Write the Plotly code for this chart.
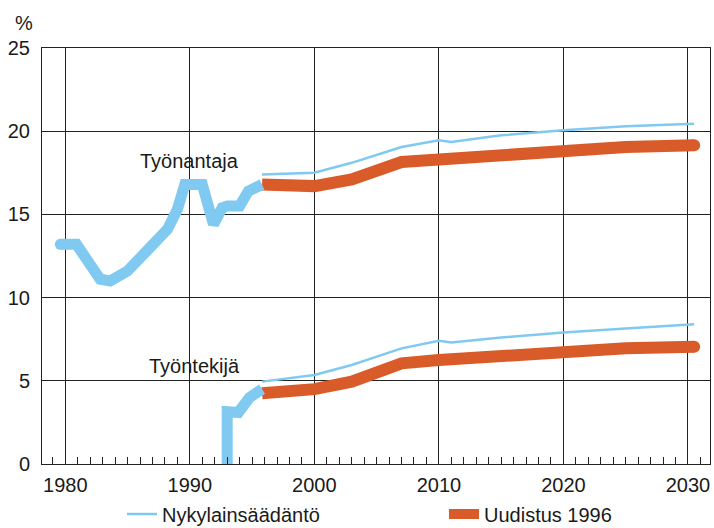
import plotly.graph_objects as go

# ---- data ----
hist_years_employer = [1979.6, 1980.9, 1982.8, 1983.6, 1985.0, 1986.6, 1988.2, 1989.0,
                       1989.6, 1990.0, 1991.0, 1991.9, 1992.6, 1993.0, 1994.0, 1994.7, 1995.8]
hist_employer = [13.2, 13.2, 11.1, 11.0, 11.6, 12.8, 14.1, 15.3,
                 16.8, 16.8, 16.8, 14.4, 15.4, 15.5, 15.5, 16.4, 16.8]

hist_years_employee = [1993.0, 1993.0, 1993.9, 1994.8, 1995.8]
hist_employee = [0.0, 3.15, 3.1, 4.0, 4.5]

proj_years = [1995.8, 2000, 2003, 2007, 2010, 2011, 2015, 2020, 2025, 2030.5]
nyky_employer = [17.4, 17.5, 18.1, 19.05, 19.45, 19.35, 19.75, 20.05, 20.3, 20.45]
uud_employer = [16.8, 16.7, 17.1, 18.15, 18.3, 18.35, 18.6, 18.85, 19.05, 19.15]
nyky_employee = [4.95, 5.35, 5.95, 6.95, 7.4, 7.3, 7.6, 7.9, 8.15, 8.4]
uud_employee = [4.25, 4.5, 4.95, 6.05, 6.25, 6.3, 6.5, 6.75, 6.95, 7.05]

x_ticks = [1980, 1990, 2000, 2010, 2020, 2030]
y_ticks = [0, 5, 10, 15, 20, 25]

series_names = ["Nykylainsäädäntö", "Uudistus 1996"]
labels = ["Työnantaja", "Työntekijä"]

BLUE = "#80c9f0"
ORANGE = "#d95b2a"
FONT = "Liberation Sans, Arial, Helvetica, sans-serif"
TXT = "#1a1a1a"
GRID = "#222222"

fig = go.Figure()

# Uudistus 1996 (thick orange)
fig.add_trace(go.Scatter(x=proj_years, y=uud_employer, mode="lines",
                         line=dict(color=ORANGE, width=12),
                         name=series_names[1], legend="legend2"))
fig.add_trace(go.Scatter(x=proj_years, y=uud_employee, mode="lines",
                         line=dict(color=ORANGE, width=12),
                         name=series_names[1], showlegend=False))
# round end caps
fig.add_trace(go.Scatter(x=[proj_years[-1], proj_years[-1]], y=[uud_employer[-1], uud_employee[-1]],
                         mode="markers", marker=dict(color=ORANGE, size=12),
                         showlegend=False, hoverinfo="skip"))

# Nykylainsäädäntö (thin blue)
fig.add_trace(go.Scatter(x=proj_years, y=nyky_employer, mode="lines",
                         line=dict(color=BLUE, width=2.5),
                         name=series_names[0], legend="legend"))
fig.add_trace(go.Scatter(x=proj_years, y=nyky_employee, mode="lines",
                         line=dict(color=BLUE, width=2.5),
                         name=series_names[0], showlegend=False))

# historical (thick blue)
fig.add_trace(go.Scatter(x=hist_years_employer, y=hist_employer, mode="lines",
                         line=dict(color=BLUE, width=11), showlegend=False))
fig.add_trace(go.Scatter(x=hist_years_employee, y=hist_employee, mode="lines",
                         line=dict(color=BLUE, width=11), showlegend=False))
fig.add_trace(go.Scatter(x=[hist_years_employer[0]], y=[hist_employer[0]],
                         mode="markers", marker=dict(color=BLUE, size=11),
                         showlegend=False, hoverinfo="skip"))

fig.add_annotation(x=1990.0, y=18.2, text=labels[0], showarrow=False,
                   font=dict(size=20, color=TXT, family=FONT))
fig.add_annotation(x=1990.4, y=5.9, text=labels[1], showarrow=False,
                   font=dict(size=20, color=TXT, family=FONT))
fig.add_annotation(xref="paper", yref="paper", x=(24 - 42) / 668, y=(464 - 23) / 416,
                   text="%", showarrow=False, xanchor="center", yanchor="middle",
                   font=dict(size=20, color=TXT, family=FONT))

fig.update_layout(
    width=714, height=528,
    margin=dict(l=42, r=4, t=48, b=64, autoexpand=False),
    paper_bgcolor="white", plot_bgcolor="white",
    font=dict(family=FONT, size=20, color=TXT),
    legend=dict(orientation="h", x=(122 - 42) / 668, y=(464 - 514) / 416,
                xanchor="left", yanchor="middle", font=dict(size=20),
                bgcolor="rgba(0,0,0,0)"),
    legend2=dict(orientation="h", x=(444 - 42) / 668, y=(464 - 514) / 416,
                 xanchor="left", yanchor="middle", font=dict(size=20),
                 bgcolor="rgba(0,0,0,0)"),
)

fig.update_xaxes(range=[1978.13, 2031.77], tickvals=x_ticks, automargin=False,
                 showgrid=True, gridcolor=GRID, gridwidth=1,
                 showline=True, linecolor=GRID, linewidth=1, mirror=True,
                 ticks="inside", ticklen=7, tickcolor=GRID,
                 minor=dict(dtick=1, tick0=1979, ticks="inside", ticklen=7,
                            tickcolor=GRID, showgrid=False),
                 ticklabelstandoff=3, zeroline=False,
                 tickfont=dict(size=20, family=FONT, color=TXT))
fig.update_yaxes(range=[0, 25], tickvals=y_ticks, automargin=False,
                 showgrid=True, gridcolor=GRID, gridwidth=1,
                 showline=True, linecolor=GRID, linewidth=1, mirror=True,
                 ticks="", ticklabelstandoff=7, zeroline=False,
                 tickfont=dict(size=20, family=FONT, color=TXT))

# remove the page's default body margin so the 714x528 figure fills the window exactly
fig.write_html("out.html",
               config={"displayModeBar": False},
               post_script="document.body.style.margin='0';document.body.style.overflow='hidden';")
